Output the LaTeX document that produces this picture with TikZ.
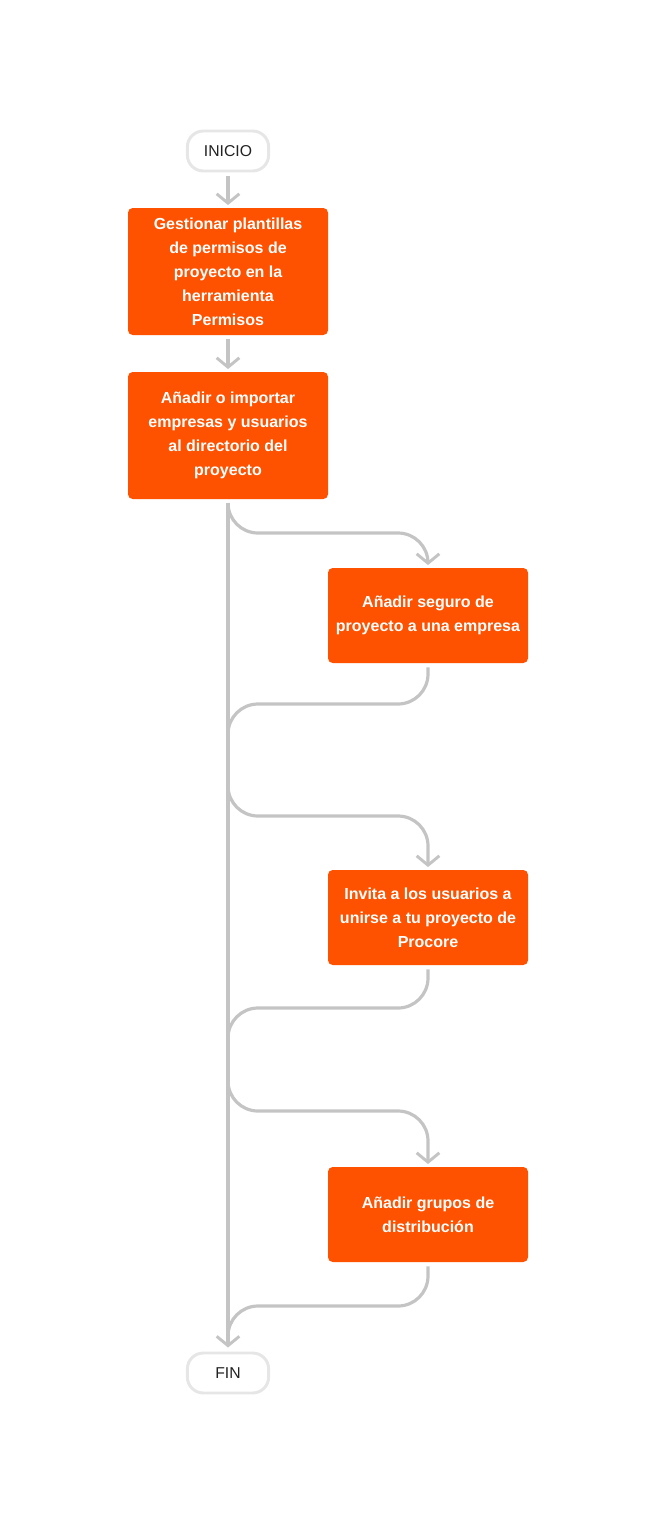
\documentclass[tikz,border=0pt]{standalone}
\usepackage{fontspec}
\setmainfont{Liberation Sans}
\usetikzlibrary{arrows.meta,positioning}
\definecolor{procore}{HTML}{FF5200}
\definecolor{linegray}{HTML}{C4C4C4}
\definecolor{termborder}{HTML}{E6E6E6}
\definecolor{txtdark}{HTML}{222222}
\tikzset{
  stepbox/.style={fill=procore, rounded corners=3.5pt, minimum width=150pt, text=white,
    font=\bfseries\fontsize{12}{18}\selectfont, align=center, inner sep=0pt},
  termbox/.style={draw=termborder, line width=2.2pt, fill=white, rounded corners=12pt,
    minimum width=61pt, minimum height=30pt, text=txtdark, font=\fontsize{11.8}{13}\selectfont, inner sep=0pt},
  flow/.style={draw=linegray, line width=2.4pt, rounded corners=22.5pt},
  arr/.style={-{Straight Barb[length=7pt,width=17pt,line width=2.2pt]}},
}
\begin{document}
\begin{tikzpicture}[x=0.75pt,y=-0.75pt]
\useasboundingbox (0,0) rectangle (656,1524);
\node[termbox] (inicio) at (228,151) {INICIO};
\node[stepbox, minimum height=95.25pt] (b1) at (228,271.5) {Gestionar plantillas\\de permisos de\\proyecto en la\\herramienta\\Permisos};
\node[stepbox, minimum height=95.25pt] (b2) at (228,435.5) {Añadir o importar\\empresas y usuarios\\al directorio del\\proyecto};
\node[stepbox, minimum height=71.25pt] (b3) at (428,615.5) {Añadir seguro de\\proyecto a una empresa};
\node[stepbox, minimum height=71.25pt] (b4) at (428,917.5) {Invita a los usuarios a\\unirse a tu proyecto de\\Procore};
\node[stepbox, minimum height=71.25pt] (b5) at (428,1214.5) {Añadir grupos de\\distribución};
\node[termbox] (fin) at (228,1373) {FIN};

\coordinate (s1) at (228,503);
\coordinate (j1) at (228,734);
\coordinate (s2) at (228,786);
\coordinate (j2) at (228,1038);
\coordinate (s3) at (228,1081);
\coordinate (j3) at (228,1336);

\draw[flow,arr] ([yshift=-3pt]inicio.south) -- ([yshift=2pt]b1.north);
\draw[flow,arr] ([yshift=-3pt]b1.south) -- ([yshift=2pt]b2.north);
\draw[flow,arr] ([yshift=-3pt]b2.south) -- ([yshift=3pt]fin.north);

\draw[flow,arr] (s1) |- (428,533) -- ([yshift=2pt]b3.north);
\draw[flow] ([yshift=-3pt]b3.south) |- (228,704) -- (j1);
\draw[flow,arr] (s2) |- (428,816) -- ([yshift=2pt]b4.north);
\draw[flow] ([yshift=-3pt]b4.south) |- (228,1008) -- (j2);
\draw[flow,arr] (s3) |- (428,1111) -- ([yshift=2pt]b5.north);
\draw[flow] ([yshift=-3pt]b5.south) |- (228,1306) -- (j3);
\end{tikzpicture}
\end{document}
